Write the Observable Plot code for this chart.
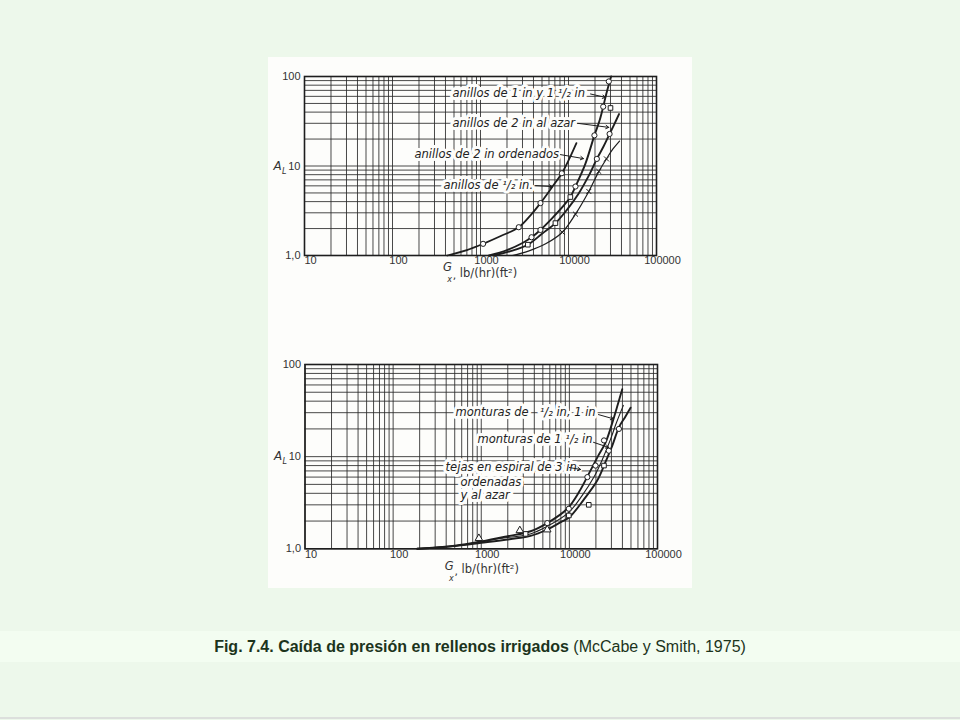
<!DOCTYPE html>
<html>
<head>
<meta charset="utf-8">
<script src="https://cdn.jsdelivr.net/npm/d3@7"></script>
<script src="https://cdn.jsdelivr.net/npm/@observablehq/plot@0.6"></script>
<style>
  html, body { margin: 0; padding: 0; }
  body { width: 960px; height: 720px; position: relative; overflow: hidden; background: #edf8eb; font-family: "Liberation Sans", Arial, sans-serif; }
  #paper { position: absolute; left: 268px; top: 57px; width: 424px; height: 531px; background: #fdfdfb; }
  #topChart { position: absolute; left: 0; top: 0; }
  #bottomChart { position: absolute; left: 0; top: 285px; }
  #band { position: absolute; left: 0; top: 631px; width: 960px; height: 31px; background: #f3fdf1; text-align: center; line-height: 32px; font-size: 16px; color: #1c341c; }
  #band b { font-weight: bold; }
  #foot { position: absolute; left: 0; top: 717px; width: 960px; height: 2px; background: #dcdfdc; }
</style>
</head>
<body>
<div id="paper"><div id="topChart"></div><div id="bottomChart"></div></div>
<div id="band"><b>Fig. 7.4. Caída de presión en rellenos irrigados</b> (McCabe y Smith, 1975)</div>
<div id="foot"></div>
<script>
// ---------- shared axis data ----------
const xTicks = [10, 100, 1000, 10000, 100000];
const xTickLabels = ["10", "100", "1000", "10000", "100000"];
const yTicks = [1, 10, 100];
const yTickLabels = ["1,0", "10", "100"];
const gridMantissas = [1, 2, 3, 4, 5, 6, 7, 8, 9];
const xDecades = [10, 100, 1000, 10000];
const yDecades = [1, 10];
const yAxisLabel = ["A", "L"];
const xAxisLabel = ["G", "x", ",", "lb/(hr)(ft²)"];

// ---------- top chart: anillos ----------
const topCurveHalf = [[420,1.0],[700,1.15],[1070,1.35],[1700,1.65],[2720,2.07],[3800,2.9],[4800,3.85],[6500,5.8],[8400,8.3],[10200,12],[12300,18]];
const topCurveOne = [[1250,1.0],[2000,1.15],[3000,1.38],[3800,1.6],[4800,1.93],[6500,2.6],[8800,3.6],[10500,4.5],[12000,5.9],[15500,10.5],[19700,22],[22500,32],[24800,46],[27000,65],[30500,100]];
const topCurveTwoRandom = [[1400,1.0],[2200,1.12],[3450,1.32],[5000,1.75],[7100,2.3],[9500,3.2],[13000,4.9],[17000,7.8],[21000,12],[25000,16.5],[29300,22.8],[33000,29],[37500,38]];
const topCurveTwoStacked = [[2300,1.0],[3500,1.12],[5500,1.35],[8500,1.82],[12000,2.9],[17000,5.2],[22000,8.6],[27000,12],[32000,15.5],[38000,19]];
const topCircles = [[1070,1.35],[2720,2.07],[4800,3.85],[8400,8.3],[3800,1.6],[4800,1.93],[12000,5.9],[19700,22],[24800,46],[28700,88],[21000,12],[29300,22.8]];
const topSquares = [[3450,1.32],[7100,2.3],[10500,4.5],[30000,44.5]];
const topCrosses = [[8500,1.82],[12000,2.9],[17000,5.2],[22100,8.7],[27000,12]];
const topLabels = [
  ["anillos de 1 in y 1 ¹/₂ in", 481, 64.8],
  ["anillos de 2 in al azar", 481, 30],
  ["anillos de 2 in ordenados", 178, 13.4],
  ["anillos de ¹/₂ in.", 380, 6.04]
];
const topArrows = [
  [17800, 63.8, 26300, 58.4],
  [12650, 30, 28700, 27],
  [8110, 13.4, 14800, 12.1],
  [4220, 6.04, 6530, 5.89]
];

// ---------- bottom chart: monturas / tejas ----------
const botCurveSaddleSmall = [[188,1.0],[500,1.08],[1000,1.2],[2000,1.37],[3630,1.55],[5610,1.9],[9460,2.72],[13000,4.2],[16600,6.5],[21000,10],[25800,14.3],[31000,24],[35500,37],[39800,54]];
const botCurveTiles = [[188,1.0],[600,1.1],[1500,1.28],[3600,1.45],[5600,1.75],[9700,2.45],[14000,3.8],[19000,6.0],[24000,9.6],[29000,15],[34000,23],[41000,36]];
const botCurveSaddleLarge = [[188,1.0],[500,1.07],[1000,1.16],[2500,1.3],[3630,1.38],[5610,1.62],[8000,1.95],[10000,2.2],[14500,3.4],[20700,5.5],[26000,9],[30700,13.2],[36500,20.8],[43000,27],[49500,34]];
const botCircles = [[5610,1.9],[9860,2.72],[16000,6.0],[19800,8.0],[24700,15],[28000,11.6],[36500,20]];
const botSquares = [[3190,1.45],[9860,2.3],[16600,3.0],[24700,8.0]];
const botTriangles = [[940,1.30],[2740,1.58],[5610,1.61]];
const botLabels = [
  ["monturas de \u00a0\u00a0¹/₂ in, 1 in", 511, 30.3],
  ["monturas de 1 ¹/₂ in", 908, 15.3],
  ["tejas en espiral de 3 in.", 394, 7.67],
  ["ordenadas", 582, 5.28],
  ["y al azar", 582, 3.79]
];
const botArrows = [
  [21400, 28.6, 31700, 25.7],
  [18800, 14.3, 27900, 12.6],
  [10000, 7.62, 13400, 7.26]
];

// ---------- helpers ----------
const ink = "#1e1e1e";
const xGrid = xDecades.flatMap(d => gridMantissas.map(m => d * m)).concat([100000]);
const yGrid = yDecades.flatMap(d => gridMantissas.map(m => d * m)).concat([100]);
const px = d => d[0], py = d => d[1];

function chart(o) {
  const lab = {fontFamily: "DejaVu Sans", fontStyle: "italic", fontSize: 11.5, fill: "#222", textAnchor: "start"};
  const marks = [
    Plot.ruleX(xGrid, {stroke: "#2a2a2a", strokeWidth: 0.95, strokeOpacity: 0.9}),
    Plot.ruleY(yGrid, {stroke: "#2a2a2a", strokeWidth: 0.95, strokeOpacity: 0.9}),
    Plot.frame({stroke: ink, strokeWidth: 1.6}),
    Plot.axisX({ticks: xTicks, tickFormat: d => xTickLabels[xTicks.indexOf(d)], tickSize: 0, tickPadding: 1, dx: 6, fontSize: 11, label: null, fill: "#333"}),
    Plot.axisY({ticks: yTicks, tickFormat: d => yTickLabels[yTicks.indexOf(d)], tickSize: 0, tickPadding: 4, fontSize: 11, label: null, fill: "#333"}),
    Plot.text([yAxisLabel[0]], {frameAnchor: "left", dx: -31, dy: 0, fontSize: 12, fontStyle: "italic", fontFamily: "DejaVu Sans", fill: "#333"}),
    Plot.text([yAxisLabel[1]], {frameAnchor: "left", dx: -22.5, dy: 5, fontSize: 8, fontStyle: "italic", fontFamily: "DejaVu Sans", fill: "#333"}),
    Plot.text([xAxisLabel[0]], {frameAnchor: "bottom", dx: o.gx, dy: o.gy, fontSize: 11.5, fontStyle: "italic", fontFamily: "DejaVu Sans", fill: "#333"}),
    Plot.text([xAxisLabel[1]], {frameAnchor: "bottom", dx: o.gx + 2, dy: o.gy + 11, fontSize: 8, fontStyle: "italic", fontFamily: "DejaVu Sans", fill: "#333"}),
    Plot.text([xAxisLabel[2]], {frameAnchor: "bottom", dx: o.gx + 7, dy: o.ly + 2, fontSize: 11, fontFamily: "DejaVu Sans", fill: "#333"}),
    Plot.text([xAxisLabel[3]], {frameAnchor: "bottom", dx: o.lx, dy: o.ly, fontSize: 11.5, fontFamily: "DejaVu Sans", fill: "#333"}),
    ...o.curves.map(c => Plot.line(c.data, {x: px, y: py, curve: "catmull-rom", stroke: ink, strokeWidth: c.w})),
    Plot.text(o.labels, {x: d => d[1], y: d => d[2], text: d => d[0], ...lab, stroke: "#fdfdfb", strokeWidth: 6}),
    Plot.arrow(o.arrows, {x1: d => d[0], y1: d => d[1], x2: d => d[2], y2: d => d[3], stroke: ink, strokeWidth: 1, headLength: 5}),
    ...o.dots.map(s => Plot.dot(s.data, {x: px, y: py, symbol: s.symbol, r: s.r, fill: s.fill, stroke: ink, strokeWidth: 1}))
  ];
  return Plot.plot({
    width: 424, height: o.height,
    marginLeft: o.ml, marginRight: o.mr, marginTop: o.mt, marginBottom: o.mb,
    x: {type: "log", domain: [10, 100000]},
    y: {type: "log", domain: [1, 100]},
    style: {background: "transparent", fontFamily: "'Liberation Sans', Arial, sans-serif", color: "#222", overflow: "visible"},
    marks
  });
}

document.getElementById("topChart").appendChild(chart({
  height: 250, ml: 36, mr: 36, mt: 19, mb: 52,
  gx: -33, gy: 15, lx: 8, ly: 21,
  curves: [
    {data: topCurveHalf, w: 1.8},
    {data: topCurveOne, w: 1.9},
    {data: topCurveTwoRandom, w: 1.9},
    {data: topCurveTwoStacked, w: 1.2}
  ],
  labels: topLabels, arrows: topArrows,
  dots: [
    {data: topCircles, symbol: "circle", r: 2.6, fill: "white"},
    {data: topSquares, symbol: "square", r: 2.6, fill: "white"},
    {data: topCrosses, symbol: "times", r: 2.4, fill: "none"}
  ]
}));

document.getElementById("bottomChart").appendChild(chart({
  height: 246, ml: 36.5, mr: 35, mt: 22, mb: 39.7,
  gx: -32, gy: 21, lx: 9, ly: 24,
  curves: [
    {data: botCurveSaddleSmall, w: 1.9},
    {data: botCurveTiles, w: 1.1},
    {data: botCurveSaddleLarge, w: 1.9}
  ],
  labels: botLabels, arrows: botArrows,
  dots: [
    {data: botCircles, symbol: "circle", r: 2.6, fill: "white"},
    {data: botSquares, symbol: "square", r: 2.6, fill: "white"},
    {data: botTriangles, symbol: "triangle", r: 2.8, fill: "white"}
  ]
}));
</script>
</body>
</html>
